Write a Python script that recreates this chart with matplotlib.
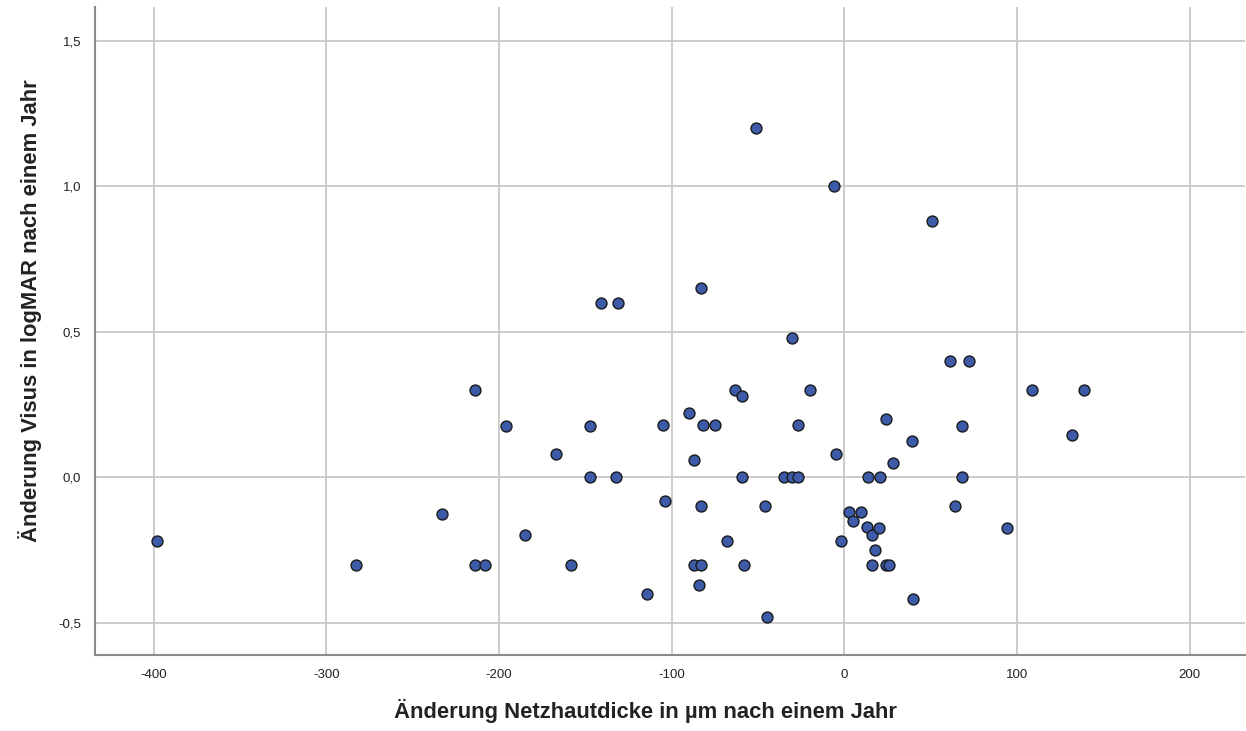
import matplotlib
matplotlib.use("Agg")
import matplotlib.pyplot as plt
from matplotlib.ticker import FuncFormatter

# Änderung Netzhautdicke (µm) und Änderung Visus (logMAR) nach einem Jahr
dicke = [-398, -283, -233, -214, -214, -208, -196, -185, -167, -158,
         -147, -147, -141, -131, -132, -114, -105, -104, -90, -87,
         -87, -83, -84, -83, -83, -82, -75, -68, -63, -59,
         -59, -58, -51, -46, -45, -35, -30, -27, -30, -27,
         -20, -6, -5, -2, 3, 5, 10, 13, 14, 16,
         16, 18, 20, 21, 24, 24, 26, 28, 39, 40,
         51, 61, 64, 68, 68, 72, 94, 109, 132, 139]
visus = [-0.22, -0.30, -0.125, 0.30, -0.30, -0.30, 0.176, -0.20, 0.08, -0.30,
         0.176, 0.0, 0.60, 0.60, 0.0, -0.40, 0.18, -0.08, 0.22, 0.06,
         -0.30, -0.30, -0.37, 0.65, -0.10, 0.18, 0.18, -0.22, 0.30, 0.28,
         0.0, -0.30, 1.20, -0.10, -0.48, 0.0, 0.0, 0.0, 0.48, 0.18,
         0.30, 1.0, 0.08, -0.22, -0.12, -0.15, -0.12, -0.17, 0.0, -0.20,
         -0.30, -0.25, -0.175, 0.0, 0.20, -0.30, -0.30, 0.05, 0.125, -0.42,
         0.88, 0.40, -0.10, 0.176, 0.0, 0.40, -0.176, 0.30, 0.146, 0.30]

xticks = [-400, -300, -200, -100, 0, 100, 200]
yticks = [-0.5, 0.0, 0.5, 1.0, 1.5]

plt.rcParams['font.family'] = ['Liberation Sans', 'DejaVu Sans']

fig = plt.figure(figsize=(12.46, 7.31), dpi=100)
ax = fig.add_axes([0.0762, 0.104, 0.9228, 0.886])

ax.scatter(dicke, visus, s=62, color='#3E5BA9', edgecolor='#1a1a1a',
           linewidth=1.0, zorder=3)

ax.set_xlim(-434, 232)
ax.set_ylim(-0.611, 1.616)
ax.set_xticks(xticks)
ax.set_yticks(yticks)
ax.yaxis.set_major_formatter(FuncFormatter(lambda v, p: "{:.1f}".format(v).replace('.', ',')))
ax.xaxis.set_major_formatter(FuncFormatter(lambda v, p: "{:d}".format(int(v))))

ax.grid(True, color='#c8c8c8', linewidth=1.3, zorder=0)
ax.set_axisbelow(True)
ax.tick_params(length=0, labelsize=9.5, colors='#222222', pad=10)

for side in ['top', 'right']:
    ax.spines[side].set_visible(False)
for side in ['left', 'bottom']:
    ax.spines[side].set_color('#8a8a8a')
    ax.spines[side].set_linewidth(1.5)

ax.set_xlabel("Änderung Netzhautdicke in µm nach einem Jahr", fontsize=15.8,
              fontweight='bold', color='#222222')
ax.set_ylabel("Änderung Visus in logMAR nach einem Jahr", fontsize=15.8,
              fontweight='bold', color='#222222')
ax.xaxis.set_label_coords(0.479, -0.068)
ax.yaxis.set_label_coords(-0.046, 0.531)

fig.savefig("out.png", dpi=100)
